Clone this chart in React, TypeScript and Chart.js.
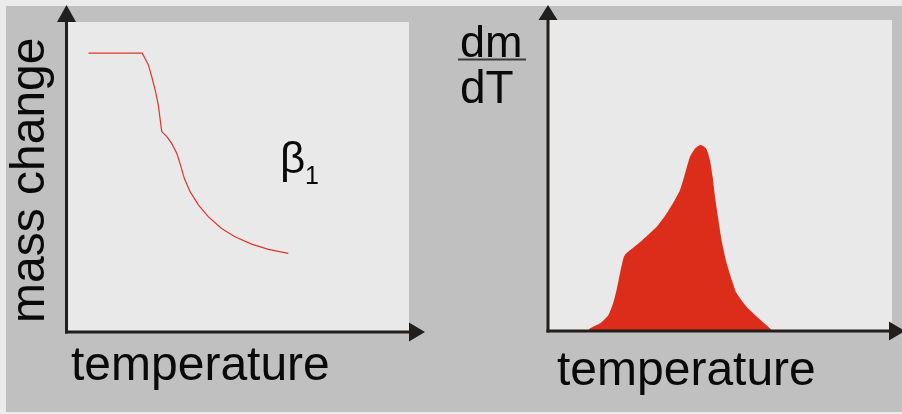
import React, { useEffect, useRef } from "react";
import { Chart, registerables } from "chart.js";

Chart.register(...registerables);

// Thermogravimetric curve: temperature (arb. units) vs. remaining mass (arb. units)
const massTemp = [6.3, 22.0, 23.8, 24.9, 25.9, 26.7, 27.2, 27.7, 29.2, 30.6, 32.1, 33.2, 34.3, 36.0, 38.4, 41.3, 45.2, 49.1, 54.0, 58.9, 64.7];
const massChange = [89.9, 89.9, 86.1, 81.8, 77.5, 73.1, 68.8, 64.5, 62.9, 60.7, 57.5, 53.7, 49.4, 45.1, 40.8, 37.0, 33.2, 30.5, 28.1, 26.4, 25.1];

// Derivative curve dm/dT
const dtgTemp = [11.4, 12.0, 14.9, 17.3, 18.7, 19.7, 20.7, 21.7, 22.4, 25.6, 28.5, 31.4, 34.3, 36.7, 38.2, 39.7, 41.1, 42.6, 44.2, 45.8, 46.9, 47.7, 48.4, 49.4, 50.3, 51.8, 53.3, 54.7, 57.6, 60.6, 64.4, 65.0];
const dtgRate = [0, 0.9, 2.5, 5.1, 8.9, 13.2, 18.6, 23.4, 24.8, 27.7, 30.5, 33.5, 37.8, 42.1, 45.3, 50.7, 56.0, 58.7, 59.8, 58.7, 55.0, 49.6, 43.2, 35.7, 29.3, 21.8, 16.4, 12.1, 7.8, 4.6, 0.9, 0];

const xLabel = "temperature";
const massLabel = "mass change";
const rateTop = "dm";
const rateBottom = "dT";
const betaLabel = "β";
const betaSub = "1";

const FONT = '"Liberation Sans", Arial, Helvetica, sans-serif';
const AXIS_COLOR = "#221e1c";
const PLOT_BG = "#e9e9e9";
const RED_LINE = "#e2352a";
const RED_FILL = "#dc2c1a";

type TextItem = {
  text: string;
  x: number;
  y: number;
  size: number;
  rotate?: boolean;
  underline?: [number, number, number];
};

type PanelOpts = {
  yAxisX: number; // offset of vertical axis centre from chartArea.left
  xAxisY: number; // offset of horizontal axis centre from chartArea.bottom
  yArrowTip: number;
  xArrowBase: number; // offset from chartArea.right
  arrowLen: number;
  arrowHalf: number;
  texts: TextItem[];
};

const panelPlugin = {
  id: "panelDecor",
  beforeDraw(chart: any) {
    const { ctx, chartArea: a } = chart;
    ctx.save();
    ctx.fillStyle = PLOT_BG;
    ctx.fillRect(a.left, a.top, a.right - a.left, a.bottom - a.top);
    ctx.restore();
  },
  afterDraw(chart: any, _args: any, opts: PanelOpts) {
    const { ctx, chartArea: a } = chart;
    const ax = a.left + opts.yAxisX;
    const ay = a.bottom + opts.xAxisY;
    ctx.save();
    ctx.strokeStyle = AXIS_COLOR;
    ctx.fillStyle = AXIS_COLOR;
    ctx.lineWidth = 3;
    ctx.lineCap = "butt";
    // vertical axis
    ctx.beginPath();
    ctx.moveTo(ax, ay + 1.5);
    ctx.lineTo(ax, a.top);
    ctx.stroke();
    // horizontal axis
    const xBase = a.right + opts.xArrowBase;
    ctx.beginPath();
    ctx.moveTo(ax - 1.5, ay);
    ctx.lineTo(xBase, ay);
    ctx.stroke();
    // arrow heads
    ctx.beginPath();
    ctx.moveTo(ax, opts.yArrowTip);
    ctx.lineTo(ax - opts.arrowHalf, a.top);
    ctx.lineTo(ax + opts.arrowHalf, a.top);
    ctx.closePath();
    ctx.fill();
    ctx.beginPath();
    ctx.moveTo(xBase + opts.arrowLen, ay);
    ctx.lineTo(xBase, ay - opts.arrowHalf);
    ctx.lineTo(xBase, ay + opts.arrowHalf);
    ctx.closePath();
    ctx.fill();

    // labels
    ctx.fillStyle = "#0a0a0a";
    ctx.textBaseline = "alphabetic";
    ctx.textAlign = "left";
    for (const t of opts.texts) {
      ctx.font = `${t.size}px ${FONT}`;
      if (t.rotate) {
        ctx.save();
        ctx.translate(t.x, t.y);
        ctx.rotate(-Math.PI / 2);
        ctx.fillText(t.text, 0, 0);
        ctx.restore();
      } else {
        ctx.fillText(t.text, t.x, t.y);
      }
      if (t.underline) {
        const [x0, x1, y] = t.underline;
        ctx.fillStyle = "#3a3a3a";
        ctx.fillRect(x0, y, x1 - x0, 2);
        ctx.fillStyle = "#0a0a0a";
      }
    }
    ctx.restore();
  },
};

const hiddenScales = {
  x: { type: "linear", min: 0, max: 100, display: false },
  y: { type: "linear", min: 0, max: 100, display: false },
};

function usePanel(ref: React.RefObject<HTMLCanvasElement | null>, build: () => any) {
  useEffect(() => {
    if (!ref.current) return;
    const chart = new Chart(ref.current, build());
    return () => chart.destroy();
  }, []);
}

export default function App() {
  const leftRef = useRef<HTMLCanvasElement>(null);
  const rightRef = useRef<HTMLCanvasElement>(null);

  usePanel(leftRef, () => ({
    type: "line",
    data: {
      datasets: [
        {
          label: massLabel,
          data: massTemp.map((t, i) => ({ x: t, y: massChange[i] })),
          borderColor: RED_LINE,
          borderWidth: 1.2,
          pointRadius: 0,
          fill: false,
          tension: 0,
        },
      ],
    },
    options: {
      responsive: false,
      animation: false,
      devicePixelRatio: 1,
      layout: { padding: { left: 67, top: 22, right: 42, bottom: 83 } },
      scales: hiddenScales,
      plugins: {
        legend: { display: false },
        tooltip: { enabled: false },
        panelDecor: {
          yAxisX: -0.5,
          xAxisY: 1,
          yArrowTip: 5,
          xArrowBase: 0,
          arrowLen: 16,
          arrowHalf: 9.5,
          texts: [
            { text: massLabel, x: 44, y: 323, size: 48, rotate: true },
            { text: xLabel, x: 71, y: 380, size: 48 },
            { text: betaLabel, x: 280, y: 173, size: 44 },
            { text: betaSub, x: 305, y: 184, size: 25 },
          ],
        },
      },
    },
    plugins: [panelPlugin],
  }));

  usePanel(rightRef, () => ({
    type: "line",
    data: {
      datasets: [
        {
          label: "dm/dT",
          data: dtgTemp.map((t, i) => ({ x: t, y: dtgRate[i] })),
          borderColor: RED_FILL,
          borderWidth: 0,
          backgroundColor: RED_FILL,
          pointRadius: 0,
          fill: "origin",
          tension: 0.2,
        },
      ],
    },
    options: {
      responsive: false,
      animation: false,
      devicePixelRatio: 1,
      layout: { padding: { left: 98, top: 20, right: 10, bottom: 83 } },
      scales: hiddenScales,
      plugins: {
        legend: { display: false },
        tooltip: { enabled: false },
        panelDecor: {
          yAxisX: -1,
          xAxisY: 0,
          yArrowTip: 5,
          xArrowBase: -3,
          arrowLen: 16,
          arrowHalf: 9.5,
          texts: [
            { text: rateTop, x: 9, y: 57, size: 45, underline: [7, 75, 58.5] },
            { text: rateBottom, x: 9, y: 103, size: 46 },
            { text: xLabel, x: 106, y: 385, size: 48 },
          ],
        },
      },
    },
    plugins: [panelPlugin],
  }));

  return (
    <div
      style={{
        position: "fixed",
        left: 0,
        top: 0,
        width: 902,
        height: 414,
        background: "#ebebeb",
        overflow: "hidden",
      }}
    >
      <div
        style={{
          position: "absolute",
          left: 6,
          top: 6,
          width: 896,
          height: 406,
          background: "#c0c0c0",
        }}
      />
      <canvas
        ref={leftRef}
        width={451}
        height={414}
        style={{ position: "absolute", left: 0, top: 0, width: 451, height: 414 }}
      />
      <canvas
        ref={rightRef}
        width={451}
        height={414}
        style={{ position: "absolute", left: 451, top: 0, width: 451, height: 414 }}
      />
    </div>
  );
}
